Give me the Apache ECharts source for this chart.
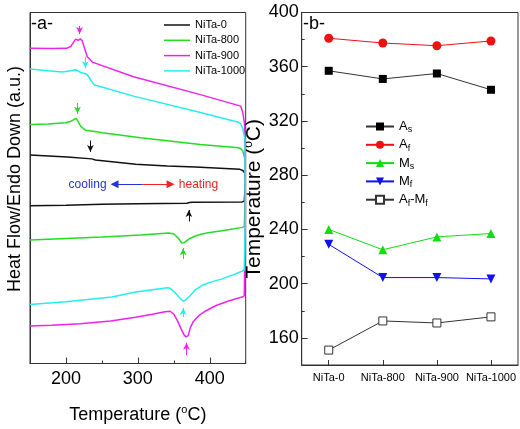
<!DOCTYPE html>
<html><head><meta charset="utf-8">
<script src="https://cdn.jsdelivr.net/npm/echarts@6/dist/echarts.min.js"></script>
<style>html,body{margin:0;padding:0;background:#fff}#c{width:520px;height:429px}</style>
</head><body><div id="c"></div><script>
const FONT = "'Liberation Sans', Arial, sans-serif";

// ---------- panel (a): DSC curves, [temperature, heat flow a.u.] ----------
const sampleNames = ['NiTa-0', 'NiTa-800', 'NiTa-900', 'NiTa-1000'];
const sampleColors = ['#111111', '#22dd22', '#ee22ee', '#22eeee'];

const heat0 = [[150,158.3],[200,159],[250,160],[300,160.5],[368,161],[372,161.6],[376,162],[445,162.3],[448,163]];
const cool0 = [[449.5,180],[449,191],[446,193.8],[442,195],[380,197.3],[341,198.3],[297,200],[241,204.3],[236,205.5],[234,206.7],[202,207.5],[150,209.3]];

const heat800 = [[150,124],[200,125.5],[250,127],[304,129],[343,131],[350,130],[356,126],[361,121],[364,121.2],[371,125],[380,128],[389,130],[400,131.5],[417,133.3],[432,135],[445,136.7],[448,137.5]];
const cool800 = [[449.5,170],[449,205],[446,213.5],[443,216],[440,216.7],[387,220],[304,226.7],[250.5,231.7],[240,233],[227,234.3],[220.4,238.3],[217,243],[214.4,246],[211,245],[206,243],[199.6,241.7],[175,240.5],[150,240]];

const heat900 = [[150,37.7],[180,38.5],[220,40],[262,42.7],[297,46.5],[320,49.5],[338,52],[345,52.5],[350,49.5],[355,43],[360,35],[364,29],[367,26.7],[370,28],[373,36],[377,42],[385,48.3],[395,53],[408,58],[425,62.5],[445,66.7],[448,68]];
const cool900 = [[449.5,150],[449.3,200],[448.5,240],[446,252],[443,258.5],[441,260],[387,270],[294,288],[236.7,302.7],[229.7,308],[226,316],[222.8,324],[220,326],[217,324.5],[213.5,325.7],[210,322],[206.5,318.3],[201,316.5],[180,316.3],[150,316.5]];

const heat1000 = [[150,59.3],[200,62],[264,66.7],[297,71.7],[320,74],[341,76],[345,75.5],[352,71],[358,66],[363,62.7],[366,63.5],[373,68.3],[380,74],[389,78.3],[400,81.5],[417,85],[432,89],[445,92.7],[448,94]];
const cool1000 = [[449.5,150],[449,225],[446,236],[443,240.5],[440,242.3],[387,252],[294,268.5],[239,280],[234.3,285],[229.7,290],[225,291.5],[220.4,292.3],[213.5,295],[207,294],[195,292.7],[175,294],[150,295.8]];

// transition arrows: [temperature, tail value, head value]
const arrows0 = [[234,224,212.5],[371,142.7,154.2]];
const arrows800 = [[216,261.7,250.8],[363,105,115.8]];
const arrows900 = [[219,339,330.8],[367.6,8.3,20.8]];
const arrows1000 = [[227,308.3,296.5],[363,46.7,55.8]];

// cooling / heating direction annotation
const dirY = 180, dirMid = 306, coolHead = 267.5, heatHead = 345.5, coolText = 256.5, heatText = 357;

// ---------- panel (b): transformation temperatures ----------
const categories = ['NiTa-0', 'NiTa-800', 'NiTa-900', 'NiTa-1000'];
const As = [357, 351, 355, 343];
const Af = [381, 377.5, 375.5, 379];
const Ms = [240, 225, 234.5, 237];
const Mf = [229, 204.5, 204.5, 203.5];
const AfMf = [151, 172.5, 171, 175.5];
const xTicksA = [200, 300, 400];
const yTicksB = [160, 200, 240, 280, 320, 360, 400];

const heats = [heat0, heat800, heat900, heat1000];
const cools = [cool0, cool800, cool900, cool1000];
const arrows = [arrows0, arrows800, arrows900, arrows1000];

const axisColor = '#333';
const supRich = (fs, ss) => ({
  n: {fontSize: fs, lineHeight: fs + 3, color: '#000', fontFamily: FONT},
  s: {fontSize: ss, lineHeight: ss, verticalAlign: 'top', color: '#000', fontFamily: FONT}
});

const seriesA = sampleNames.map((name, i) => ({
  name, type: 'line', xAxisIndex: 0, yAxisIndex: 0,
  data: heats[i].concat(cools[i]),
  showSymbol: false, symbol: 'none', smooth: false,
  lineStyle: {color: sampleColors[i], width: 1.5},
  itemStyle: {color: sampleColors[i]},
  markLine: {
    silent: true, symbol: ['none', 'arrow'], symbolSize: [5, 7], label: {show: false},
    lineStyle: {color: sampleColors[i], width: 1, type: 'solid'},
    data: arrows[i].map(a => [{coord: [a[0], a[1]]}, {coord: [a[0], a[2]]}])
  },
  z: 3
}));

const helper = {
  name: 'dir', type: 'line', xAxisIndex: 0, yAxisIndex: 0, data: [],
  markLine: {
    silent: true, symbol: ['none', 'triangle'], symbolSize: [8, 8], label: {show: false},
    data: [
      [{coord: [dirMid, dirY], lineStyle: {color: '#2233dd', width: 1, type: 'solid'}}, {coord: [coolHead, dirY], lineStyle: {color: '#2233dd', width: 1, type: 'solid'}}],
      [{coord: [dirMid, dirY], lineStyle: {color: '#ee2222', width: 1, type: 'solid'}}, {coord: [heatHead, dirY], lineStyle: {color: '#ee2222', width: 1, type: 'solid'}}]
    ]
  },
  markPoint: {
    silent: true, symbol: 'circle', symbolSize: 0,
    data: [
      {coord: [coolText, dirY], label: {show: true, position: 'left', distance: 0, formatter: 'cooling', color: '#2233dd', fontSize: 12, fontFamily: FONT}},
      {coord: [heatText, dirY], label: {show: true, position: 'right', distance: 0, formatter: 'heating', color: '#ee2222', fontSize: 12, fontFamily: FONT}}
    ]
  }
};

const bStyle = (name, data, symbol, size, color, extra) => Object.assign({
  name, type: 'line', xAxisIndex: 2, yAxisIndex: 1, data,
  symbol, symbolSize: size, showSymbol: true,
  lineStyle: {color, width: 1},
  itemStyle: {color}
}, extra || {});

const seriesB = [
  bStyle('As', As, 'rect', 8, '#000000', {lineStyle: {color: '#333', width: 1}}),
  bStyle('Af', Af, 'circle', 9, '#ee1111'),
  bStyle('Ms', Ms, 'triangle', 9, '#11dd11'),
  bStyle('Mf', Mf, 'triangle', 9, '#1111ee', {symbolRotate: 180}),
  bStyle('Af-Mf', AfMf, 'rect', 8, '#333', {itemStyle: {color: '#ffffff', borderColor: '#333', borderWidth: 1}, lineStyle: {color: '#333', width: 1}})
];

const legendBNames = {
  'As': '{m|A}{b|s}', 'Af': '{m|A}{b|f}', 'Ms': '{m|M}{b|s}', 'Mf': '{m|M}{b|f}', 'Af-Mf': '{m|A}{b|f}{m|-M}{b|f}'
};

const chart = echarts.init(document.getElementById('c'), null, {renderer: 'canvas'});
chart.setOption({
  animation: false,
  backgroundColor: '#fff',
  textStyle: {fontFamily: FONT},
  grid: [
    {left: 30, top: 12.5, width: 215.7, height: 352.5, show: true, borderColor: axisColor, borderWidth: 1, backgroundColor: 'transparent'},
    {left: 301.7, top: 12.5, width: 216.3, height: 352.5, show: true, borderColor: axisColor, borderWidth: 1, backgroundColor: 'transparent'}
  ],
  xAxis: [
    {type: 'value', gridIndex: 0, min: 150, max: 450, interval: 50,
     axisLine: {show: true, lineStyle: {color: axisColor}},
     axisTick: {show: true, inside: true, length: 3, lineStyle: {color: axisColor}},
     axisLabel: {formatter: v => (v % 100 === 0 ? String(v) : ''), fontSize: 18, color: '#000', margin: 7, fontFamily: FONT},
     splitLine: {show: false},
     name: '{n|Temperature (}{s|o}{n|C)}', nameLocation: 'middle', nameGap: 41,
     nameTextStyle: {rich: supRich(18, 11)}},
    {type: 'value', gridIndex: 0, min: 150, max: 450, position: 'bottom',
     axisLine: {show: false}, axisLabel: {show: false}, splitLine: {show: false},
     axisTick: {show: true, inside: true, length: 6, customValues: xTicksA, lineStyle: {color: axisColor}}},
    {type: 'category', gridIndex: 1, data: categories, boundaryGap: true,
     axisLine: {show: true, lineStyle: {color: axisColor}},
     axisTick: {show: true, alignWithLabel: true, inside: true, length: 5, lineStyle: {color: axisColor}},
     axisLabel: {interval: 0, fontSize: 11, color: '#000', margin: 7, fontFamily: FONT},
     splitLine: {show: false}}
  ],
  yAxis: [
    {type: 'value', gridIndex: 0, min: 0, max: 352.5,
     axisLine: {show: true, lineStyle: {color: axisColor}},
     axisTick: {show: false}, axisLabel: {show: false}, splitLine: {show: false},
     name: 'Heat Flow/Endo Down (a.u.)', nameLocation: 'middle', nameGap: 6,
     nameTextStyle: {fontSize: 18, color: '#000', fontFamily: FONT, padding: [0, 0, 0, 18]}},
    {type: 'value', gridIndex: 1, min: 140, max: 400, interval: 20,
     axisLine: {show: true, lineStyle: {color: axisColor}},
     axisTick: {show: true, inside: true, length: 3, lineStyle: {color: axisColor}},
     axisLabel: {formatter: v => (v % 40 === 0 ? String(v) : ''), fontSize: 18, color: '#000', margin: 3, fontFamily: FONT},
     splitLine: {show: false},
     name: '{n|Temperature (}{s|o}{n|C)}', nameLocation: 'middle', nameGap: 31,
     nameTextStyle: {rich: supRich(21, 12), padding: [0, 20, 0, 0]}},
    {type: 'value', gridIndex: 1, min: 140, max: 400, position: 'left',
     axisLine: {show: false}, axisLabel: {show: false}, splitLine: {show: false},
     axisTick: {show: true, inside: true, length: 6, customValues: yTicksB, lineStyle: {color: axisColor}}}
  ],
  legend: [
    {data: sampleNames.map(n => ({name: n, icon: 'rect'})), orient: 'vertical', left: 159, top: 13.5,
     itemWidth: 26, itemHeight: 1.5, itemGap: 2.3,
     textStyle: {fontSize: 11, lineHeight: 13, color: '#000', fontFamily: FONT}},
    {data: ['As', 'Af', 'Ms', 'Mf', 'Af-Mf'], orient: 'vertical', left: 360, top: 115,
     itemWidth: 28, itemHeight: 10, itemGap: 3.8,
     formatter: n => legendBNames[n],
     textStyle: {color: '#000', fontFamily: FONT, rich: {
       m: {fontSize: 13, lineHeight: 16, color: '#000', fontFamily: FONT},
       b: {fontSize: 9, lineHeight: 9, verticalAlign: 'bottom', color: '#000', fontFamily: FONT}
     }}}
  ],
  graphic: [
    {type: 'text', left: 31, top: 15, style: {text: '-a-', font: '18px ' + FONT, fill: '#000'}},
    {type: 'text', left: 303, top: 15, style: {text: '-b-', font: '18px ' + FONT, fill: '#000'}}
  ],
  series: seriesA.concat([helper], seriesB)
});
</script></body></html>
